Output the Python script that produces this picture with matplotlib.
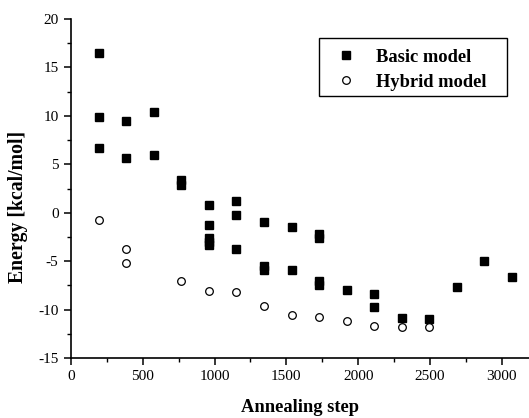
import matplotlib
matplotlib.use("Agg")
import matplotlib.pyplot as plt
from matplotlib.ticker import MultipleLocator
from matplotlib.patches import Rectangle

basic_x = [192, 192, 192, 384, 384, 576, 576, 768, 768,
           960, 960, 960, 960, 960, 1152, 1152, 1152,
           1344, 1344, 1344, 1536, 1536, 1728, 1728, 1728, 1728,
           1920, 2112, 2112, 2304, 2496, 2688, 2880, 3072]
basic_y = [16.5, 9.9, 6.7, 9.5, 5.6, 10.4, 6.0, 3.4, 2.9,
           0.8, -1.3, -2.6, -3.0, -3.3, 1.2, -0.2, -3.7,
           -1.0, -5.5, -5.9, -1.5, -5.9, -2.2, -2.6, -7.0, -7.5,
           -8.0, -8.4, -9.7, -10.9, -11.0, -7.7, -5.0, -6.6]

hybrid_x = [192, 384, 384, 768, 960, 1152, 1344, 1536, 1728, 1920, 2112, 2304, 2496]
hybrid_y = [-0.74, -3.7, -5.2, -7.0, -8.1, -8.2, -9.6, -10.6, -10.8, -11.2, -11.7, -11.75, -11.8]

plt.rcParams['font.family'] = ['Liberation Serif', 'DejaVu Serif']
plt.rcParams['axes.unicode_minus'] = False

W, H = 529, 418
fig = plt.figure(figsize=(W/100, H/100), dpi=100)
ax = fig.add_axes([71/W, 60/H, (W-71)/W, (358-19)/H])

ax.plot(basic_x, basic_y, linestyle='none', marker='s', markersize=5.2,
        color='black', label='Basic model')
ax.plot(hybrid_x, hybrid_y, linestyle='none', marker='o', markersize=5.5,
        markerfacecolor='white', markeredgecolor='black', markeredgewidth=0.9,
        label='Hybrid model')

ax.set_xlim(0, 3190)
ax.set_ylim(-15, 20)
ax.xaxis.set_major_locator(MultipleLocator(500))
ax.xaxis.set_minor_locator(MultipleLocator(250))
ax.yaxis.set_major_locator(MultipleLocator(5))
ax.yaxis.set_minor_locator(MultipleLocator(2.5))
ax.spines['top'].set_visible(False)
ax.spines['right'].set_visible(False)
for s in ['left', 'bottom']:
    ax.spines[s].set_linewidth(1.2)
ax.tick_params(which='major', direction='out', length=5, width=1.1, labelsize=11, pad=4)
ax.tick_params(which='minor', direction='out', length=3, width=1.0)

ax.set_xlabel('Annealing step', fontsize=13.3, fontweight='bold', labelpad=11)
ax.set_ylabel('Energy [kcal/mol]', fontsize=14.2, fontweight='bold')
ax.yaxis.set_label_coords(-0.094, 0.445)

leg = ax.legend(loc='upper left', bbox_to_anchor=(327.5/W, 1 - 48.5/H),
                bbox_transform=fig.transFigure, frameon=False,
                prop={'weight': 'bold', 'size': 13.3}, handlelength=2.0,
                handletextpad=0.62, borderpad=0, labelspacing=0.45, borderaxespad=0)
fig.patches.append(Rectangle((319/W, (H-96)/H), 188/W, 58/H, transform=fig.transFigure,
                             fill=False, edgecolor='black', linewidth=1.0))

fig.savefig('out.png', dpi=100)
